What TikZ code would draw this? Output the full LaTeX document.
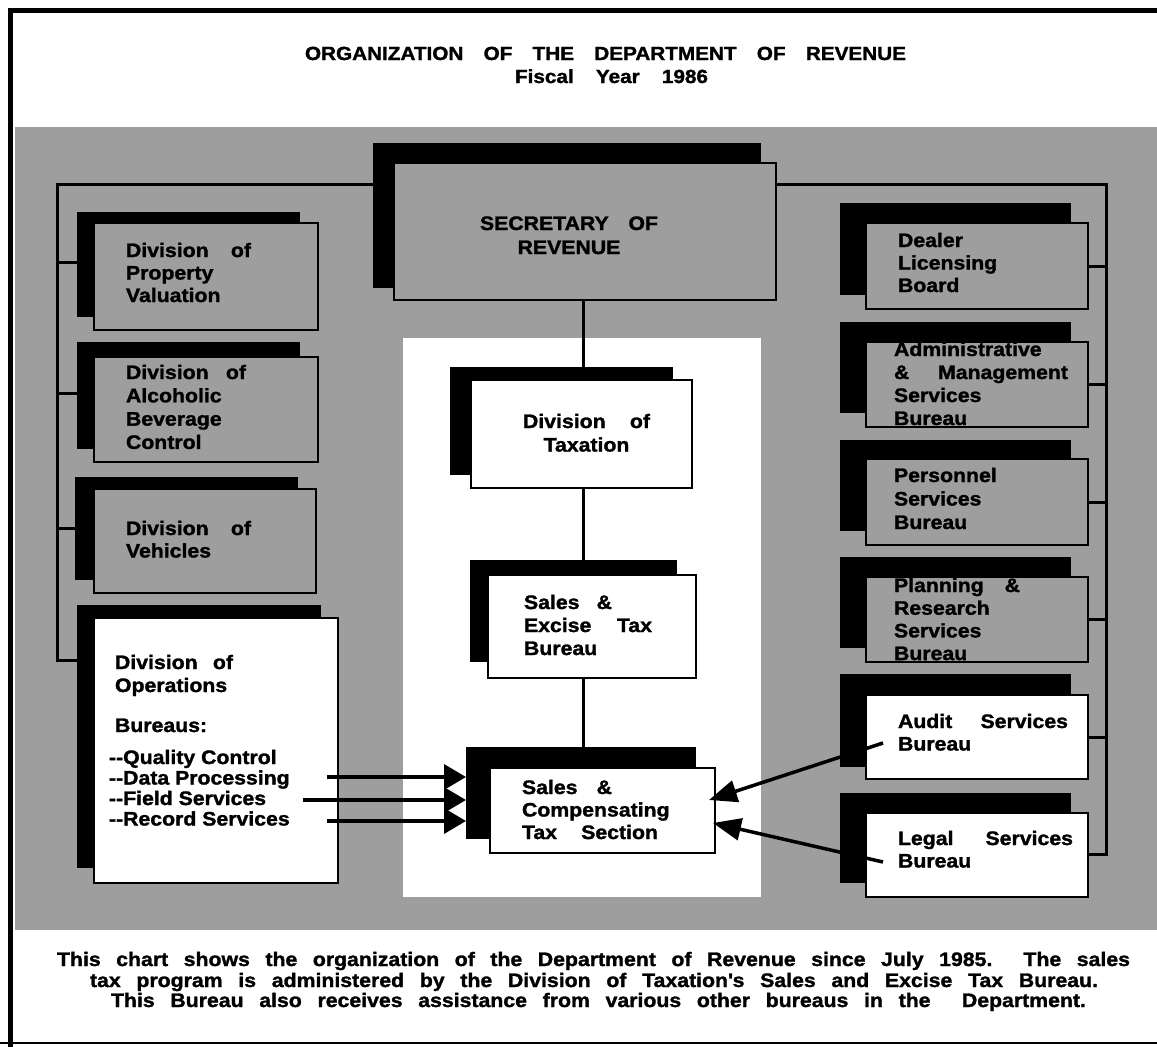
\documentclass[tikz,border=0pt]{standalone}
\usepackage{fontspec}
\setmainfont{Liberation Sans}[FakeStretch=1.09, BoldFeatures={FakeBold=1.5}]
\usetikzlibrary{arrows.meta}
\definecolor{halftone}{gray}{0.62}
\newcommand\J[2]{\makebox[#1pt][s]{#2}}
\newcommand\TL[3]{\fontsize{19.5}{#1}\selectfont\begin{tabular}[t]{@{}#2@{}}#3\end{tabular}}
\tikzset{
  conn/.style={line width=3pt},
  shad/.style={fill=black, draw=none, inner sep=0pt, outer sep=0pt, anchor=north west},
  gbox/.style={draw, line width=2.5pt, fill=halftone, inner sep=0pt, outer sep=0pt, anchor=north west},
  wbox/.style={draw, line width=2.5pt, fill=white, inner sep=0pt, outer sep=0pt, anchor=north west},
  txt/.style={inner sep=0pt, outer sep=0pt, anchor=base west, font=\fontsize{19.5}{22.5}\selectfont\bfseries},
  ctxt/.style={txt, anchor=base},
  arr/.style={line width=3.5pt, -{Triangle[length=22pt,width=25pt]}},
  arrb/.style={line width=3.5pt, -{Triangle[length=28pt,width=22pt]}},
}
\begin{document}
\begin{tikzpicture}[x=1pt,y=-1pt]
\useasboundingbox (0,0) rectangle (1157,1047);
% background regions
\fill[halftone] (15,127) rectangle (1157,930);
\fill[white] (403,338) rectangle (761,897);
% frame
\draw[line width=5pt] (8,10) -- (1157,10);
\draw[line width=5pt] (10.5,7.5) -- (10.5,1047);
\draw[line width=1.8pt] (0,1043) -- (1157,1043);

% title
\node[ctxt, font=\fontsize{19}{23}\selectfont\bfseries] (title) at (605.5,60) {\J{601}{ORGANIZATION OF THE DEPARTMENT OF REVENUE}};
\node[ctxt, font=\fontsize{19}{23}\selectfont\bfseries] (fy) at (611.5,83) {\J{193}{Fiscal Year 1986}};

% shadows
\node[shad, minimum width=388pt, minimum height=145pt] (secsh) at (373,143) {};
\node[shad, minimum width=223pt, minimum height=105pt] (propsh) at (77,212) {};
\node[shad, minimum width=223pt, minimum height=107pt] (alcsh) at (77,342) {};
\node[shad, minimum width=223pt, minimum height=103pt] (vehsh) at (75,477) {};
\node[shad, minimum width=244pt, minimum height=263pt] (opsh) at (77,605) {};
\node[shad, minimum width=223pt, minimum height=108pt] (taxsh) at (450,367) {};
\node[shad, minimum width=207pt, minimum height=102pt] (sesh) at (470,560) {};
\node[shad, minimum width=230pt, minimum height=92pt] (scsh) at (466,747) {};
\node[shad, minimum width=231pt, minimum height=92pt] (dealsh) at (840,203) {};
\node[shad, minimum width=231pt, minimum height=91pt] (admsh) at (840,322) {};
\node[shad, minimum width=231pt, minimum height=91pt] (persh) at (840,440) {};
\node[shad, minimum width=231pt, minimum height=91pt] (plansh) at (840,557) {};
\node[shad, minimum width=231pt, minimum height=93pt] (audsh) at (840,674) {};
\node[shad, minimum width=231pt, minimum height=90pt] (legsh) at (840,793) {};

% connector anchor points
\coordinate (spine) at (583,0);
\coordinate (lb) at (57,184);
\coordinate (lbb) at (57,660);
\coordinate (rb) at (1106,184);
\coordinate (rbb) at (1106,854);

% boxes
\node[gbox, minimum width=382pt, minimum height=137pt] (sec) at (394,163) {};
\node[gbox, minimum width=224pt, minimum height=107pt] (prop) at (94,223) {};
\node[gbox, minimum width=224pt, minimum height=105pt] (alc) at (94,357) {};
\node[gbox, minimum width=222pt, minimum height=104pt] (veh) at (94,489) {};
\node[wbox, minimum width=244pt, minimum height=265pt] (op) at (94,618) {};
\node[wbox, minimum width=221pt, minimum height=108pt] (tax) at (471,380) {};
\node[wbox, minimum width=208pt, minimum height=103pt] (se) at (488,575) {};
\node[wbox, minimum width=225pt, minimum height=85pt] (sc) at (490,768) {};
\node[gbox, minimum width=222pt, minimum height=86pt] (deal) at (866,223) {};
\node[gbox, minimum width=222pt, minimum height=85pt] (adm) at (866,342) {};
\node[gbox, minimum width=222pt, minimum height=86pt] (per) at (866,459) {};
\node[gbox, minimum width=222pt, minimum height=85pt] (plan) at (866,577) {};
\node[wbox, minimum width=222pt, minimum height=84pt] (aud) at (866,695) {};
\node[wbox, minimum width=222pt, minimum height=84pt] (leg) at (866,813) {};

% left bracket
\draw[conn] (secsh.west |- lb) -- (lb) -- (lbb) -- (opsh.west |- lbb);
\draw[conn] (lb |- 0,262) -- (propsh.west |- 0,262);
\draw[conn] (lb |- 0,393) -- (alcsh.west |- 0,393);
\draw[conn] (lb |- 0,528) -- (vehsh.west |- 0,528);
% right bracket
\draw[conn] (sec.east |- rb) -- (rb) -- (rbb) -- (leg.east |- rbb);
\draw[conn] (deal.east) -- (deal.east -| rb);
\draw[conn] (adm.east) -- (adm.east -| rb);
\draw[conn] (per.east) -- (per.east -| rb);
\draw[conn] (plan.east) -- (plan.east -| rb);
\draw[conn] (aud.east) -- (aud.east -| rb);
% spine
\draw[conn] (spine |- sec.south) -- (spine |- taxsh.north);
\draw[conn] (spine |- tax.south) -- (spine |- sesh.north);
\draw[conn] (spine |- se.south) -- (spine |- scsh.north);

% texts
\node[ctxt] (tsec) at (569,230) {\TL{24}{c}{\J{178}{SECRETARY OF}\\REVENUE}};
\node[txt] (tprop) at (126,257) {\TL{22.5}{l}{\J{125}{Division of}\\Property\\Valuation}};
\node[txt] (talc) at (126,379) {\TL{23.3}{l}{\J{120}{Division of}\\Alcoholic\\Beverage\\Control}};
\node[txt] (tveh) at (126,535) {\TL{22.5}{l}{\J{125}{Division of}\\Vehicles}};
\node[txt] (top1) at (115,669) {\TL{23}{l}{\J{118}{Division of}\\Operations}};
\node[txt] (top2) at (115,732) {Bureaus:};
\node[txt] (top3) at (109,764) {\TL{20.5}{l}{-{}-Quality Control\\-{}-Data Processing\\-{}-Field Services\\-{}-Record Services}};
\node[ctxt] (ttax) at (586.5,428) {\TL{23.5}{c}{\J{127}{Division of}\\Taxation}};
\node[txt] (tse) at (524,609) {\TL{23}{l}{\J{88}{Sales \&}\\\J{128}{Excise Tax}\\Bureau}};
\node[txt] (tsc) at (522,794) {\TL{22.5}{l}{\J{90}{Sales \&}\\Compensating\\\J{136}{Tax Section}}};
\node[txt] (tdeal) at (898,247) {\TL{22.5}{l}{Dealer\\Licensing\\Board}};
\node[txt] (tadm) at (894,356) {\TL{23}{l}{Administrative\\\J{174}{\& Management}\\Services\\Bureau}};
\node[txt] (tper) at (894,482) {\TL{23.5}{l}{Personnel\\Services\\Bureau}};
\node[txt] (tplan) at (894,592) {\TL{22.7}{l}{\J{126}{Planning \&}\\Research\\Services\\Bureau}};
\node[txt] (taud) at (898,728) {\TL{22.5}{l}{\J{170}{Audit Services}\\Bureau}};
\node[txt] (tleg) at (898,845) {\TL{22.5}{l}{\J{175}{Legal Services}\\Bureau}};

% arrows
\coordinate (a1) at (327,777);
\coordinate (a2) at (303,800);
\coordinate (a3) at (327,821);
\draw[arr] (a1) -- (scsh.west |- a1);
\draw[arr] (a2) -- (scsh.west |- a2);
\draw[arr] (a3) -- (scsh.west |- a3);
\coordinate (au) at (883,743);
\coordinate (auT) at (709,800);
\coordinate (lg) at (883,862);
\coordinate (lgT) at (713,823);
\draw[arrb] (au) -- (auT);
\draw[arrb] (lg) -- (lgT);

% caption
\node[ctxt] (c1) at (593.5,966) {\J{1073}{This chart shows the organization of the Department of Revenue since July 1985.\ \ The sales}};
\node[ctxt] (c2) at (594,987) {\J{1008}{tax program is administered by the Division of Taxation\textquotesingle s Sales and Excise Tax Bureau.}};
\node[ctxt] (c3) at (598.5,1007) {\J{975}{This Bureau also receives assistance from various other bureaus in the\ \ Department.}};
\end{tikzpicture}
\end{document}
